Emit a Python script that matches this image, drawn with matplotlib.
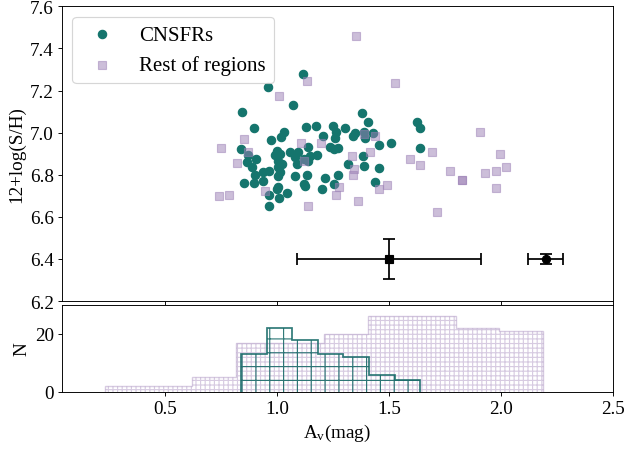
import numpy as np
import matplotlib
matplotlib.use("Agg")
import matplotlib.pyplot as plt

plt.rcParams["font.family"] = "serif"
plt.rcParams["font.serif"] = ["Liberation Serif", "DejaVu Serif"]
plt.rcParams["mathtext.fontset"] = "custom"
plt.rcParams["mathtext.rm"] = "Liberation Serif"
plt.rcParams["mathtext.it"] = "Liberation Serif:italic"
plt.rcParams["font.size"] = 16.5

# CNSFRs: Av (mag) and 12+log(S/H)
cns_av = [1.116, 0.958, 1.071, 0.846, 1.378, 1.406, 0.896, 1.03, 1.02, 1.132,
          1.174, 1.25, 1.305, 1.35, 1.338, 1.263, 1.26, 1.207, 1.391, 1.427,
          1.394, 0.975, 1.458, 1.51, 0.839, 0.87, 0.866, 0.908, 0.888, 1.0,
          0.993, 1.015, 1.003, 1.022, 1.007, 1.06, 1.079, 1.096, 1.089, 1.119,
          1.138, 1.149, 1.181, 1.141, 1.238, 1.253, 1.275, 1.317, 1.384, 1.387,
          1.454, 0.94, 0.963, 1.015, 0.9, 1.003, 1.083, 1.134, 0.938, 0.896,
          0.854, 1.004, 1.122, 1.126, 1.213, 1.271, 1.253, 1.201, 1.439, 0.966,
          1.0, 1.045, 1.01, 0.966, 1.625, 1.641, 1.637]
cns_sh = [7.278, 7.219, 7.131, 7.096, 7.093, 7.049, 7.022, 7.001, 6.977, 7.025,
          7.033, 7.033, 7.02, 6.998, 6.982, 7.001, 6.974, 6.982, 7.001, 6.998,
          6.974, 6.966, 6.941, 6.95, 6.922, 6.893, 6.862, 6.875, 6.835, 6.914,
          6.893, 6.898, 6.866, 6.851, 6.835, 6.906, 6.882, 6.906, 6.851, 6.875,
          6.93, 6.89, 6.893, 6.866, 6.93, 6.922, 6.925, 6.851, 6.89, 6.843,
          6.832, 6.811, 6.816, 6.811, 6.798, 6.795, 6.795, 6.8, 6.771, 6.76,
          6.759, 6.743, 6.756, 6.748, 6.783, 6.8, 6.756, 6.732, 6.767, 6.705,
          6.732, 6.713, 6.689, 6.653, 7.052, 7.023, 6.929]

# rest of regions
rest_av = [1.351, 1.134, 1.527, 1.009, 0.851, 0.751, 0.869, 0.821, 1.108, 1.196,
           1.439, 1.391, 1.417, 1.335, 1.123, 1.346, 1.338, 0.948, 0.741, 0.786,
           1.279, 1.265, 1.454, 1.491, 1.362, 1.141, 1.907, 1.693, 1.594, 1.637,
           1.997, 2.023, 1.977, 1.931, 1.771, 1.825, 1.825, 1.979, 1.717]
rest_sh = [7.457, 7.246, 7.238, 7.175, 6.969, 6.925, 6.909, 6.854, 6.95, 6.95,
           6.982, 6.993, 6.909, 6.887, 6.866, 6.827, 6.798, 6.724, 6.70, 6.705,
           6.74, 6.704, 6.732, 6.751, 6.677, 6.653, 7.002, 6.906, 6.877, 6.845,
           6.898, 6.839, 6.818, 6.809, 6.818, 6.776, 6.776, 6.739, 6.625]

# typical errors
err_x = [1.5, 2.2]
err_y = [6.4, 6.4]
err_xe = [0.41, 0.08]
err_ye = [0.095, 0.025]
err_fmt = ["s", "o"]

# histograms (Av distribution)
hist_rest_edges = np.linspace(0.23, 2.19, 11)
hist_rest_counts = [2, 2, 5, 17, 17, 20, 26, 26, 22, 21]
hist_cns_edges = np.linspace(0.839, 1.641, 8)
hist_cns_counts = [13, 22, 18, 13, 12, 6, 4]

teal = "#15756d"
purple = "#9b7fb5"

fig = plt.figure(figsize=(7.5, 5.427), dpi=83.47)
ax1 = fig.add_axes([0.099, 0.3331, 0.8798, 0.6508])
ax2 = fig.add_axes([0.099, 0.1325, 0.8798, 0.1927], sharex=ax1)

ax1.scatter(cns_av, cns_sh, s=52, color=teal, label="CNSFRs", zorder=2)
ax1.scatter(rest_av, rest_sh, s=46, marker="s", color=purple, alpha=0.5,
            label="Rest of regions", zorder=3)
for x, y, xe, ye, f in zip(err_x, err_y, err_xe, err_ye, err_fmt):
    ax1.errorbar(x, y, xerr=xe, yerr=ye, fmt=f, color="k", ms=7,
                 capsize=5.5, elinewidth=1.5, capthick=1.5)

ax1.set_ylim(6.2, 7.6)
ax1.set_yticks(np.arange(6.2, 7.61, 0.2))
ax1.set_ylabel("12+log(S/H)")
ax1.tick_params(labelbottom=False)
ax1.legend(loc="upper left", fontsize=18)

ax2.hist(hist_rest_edges[:-1], bins=hist_rest_edges, weights=hist_rest_counts,
         histtype="step", hatch="+++", color=purple, alpha=0.4, lw=1.2)
ax2.hist(hist_cns_edges[:-1], bins=hist_cns_edges, weights=hist_cns_counts,
         histtype="step", hatch="+", color="#1b6d6b", alpha=0.9, lw=1.5)
ax2.set_xlim(0.04, 2.5)
ax2.set_ylim(0, 30)
ax2.set_yticks([0, 20])
ax2.set_xticks([0.5, 1.0, 1.5, 2.0, 2.5])
ax2.set_ylabel("N")
ax2.set_xlabel(r"A$_\mathrm{v}$(mag)")

fig.savefig("out.png", dpi=83.47)
